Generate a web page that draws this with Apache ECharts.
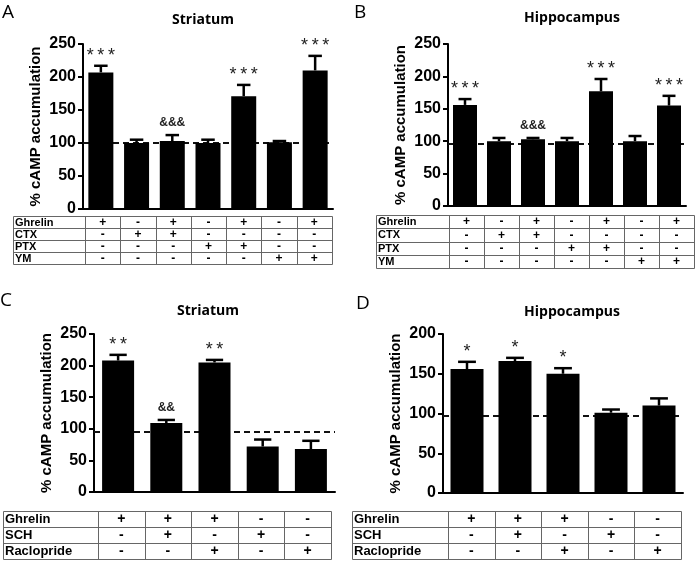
<!DOCTYPE html>
<html><head><meta charset="utf-8">
<script src="https://cdn.jsdelivr.net/npm/echarts@6/dist/echarts.min.js"></script>
<style>html,body{margin:0;padding:0;background:#fff}#c{width:700px;height:561px}</style>
</head><body><div id="c"></div>
<script>
// ---- data ----
const catsAB = ['G', 'CTX', 'G+CTX', 'PTX', 'G+PTX', 'YM', 'G+YM'];
const catsCD = ['G', 'G+SCH', 'G+Raclo', 'SCH', 'Raclo'];
const valuesA = [207, 100, 103, 100, 171, 101, 210];
const semA    = [10, 5, 9, 5, 17, 2, 22];
const valuesB = [156, 100, 103, 100, 177, 100, 155];
const semB    = [9, 5, 2, 5, 19, 8, 15];
const valuesC = [208, 109, 205, 72, 68];
const semC    = [9, 5, 4, 11, 13];
const valuesD = [156, 166, 150, 101, 110];
const semD    = [9, 4, 7, 4, 9];
const annotA = ['***', '', '&&&', '', '***', '', '***'];
const annotB = ['***', '', '&&&', '', '***', '', '***'];
const annotC = ['**', '&&', '**', '', ''];
const annotD = ['*', '*', '*', '', ''];
const baseA = 100, baseB = 96, baseC = 96, baseD = 97;
const rowsAB = ['Ghrelin', 'CTX', 'PTX', 'YM'];
const signsAB = [
  ['+', '-', '+', '-', '+', '-', '+'],
  ['-', '+', '+', '-', '-', '-', '-'],
  ['-', '-', '-', '+', '+', '-', '-'],
  ['-', '-', '-', '-', '-', '+', '+']
];
const rowsCD = ['Ghrelin', 'SCH', 'Raclopride'];
const signsCD = [
  ['+', '+', '+', '-', '-'],
  ['-', '+', '-', '+', '-'],
  ['-', '-', '+', '-', '+']
];
const titles = ['Striatum', 'Hippocampus', 'Striatum', 'Hippocampus'];
const letters = ['A', 'B', 'C', 'D'];
const yMax = [250, 250, 250, 200];
const yTicks = [50, 50, 50, 50];

// ---- layout ----
const grids = [
  {left: 83, top: 44, width: 250, height: 165},
  {left: 448, top: 44, width: 238, height: 162},
  {left: 94, top: 334, width: 241, height: 158},
  {left: 443, top: 334, width: 240, height: 159}
];
const barW = [25, 24, 32, 33];
const tables = [
  {x: 13, lab: 85, right: 332, top: 216, bottom: 264, fs: 11},
  {x: 376, lab: 449, right: 694, top: 215, bottom: 268, fs: 11},
  {x: 3, lab: 98, right: 331, top: 511, bottom: 559, fs: 13},
  {x: 352, lab: 448, right: 681, top: 511, bottom: 559, fs: 13}
];
const titlePos = [[203, 20], [572, 18], [208, 311], [572, 312]];
const letterPos = [[2, 3], [354, 3], [0, 291], [356, 294]];

const panels = [
  {cats: catsAB, v: valuesA, s: semA, a: annotA, base: baseA, rows: rowsAB, signs: signsAB},
  {cats: catsAB, v: valuesB, s: semB, a: annotB, base: baseB, rows: rowsAB, signs: signsAB},
  {cats: catsCD, v: valuesC, s: semC, a: annotC, base: baseC, rows: rowsCD, signs: signsCD},
  {cats: catsCD, v: valuesD, s: semD, a: annotD, base: baseD, rows: rowsCD, signs: signsCD}
];

const FAM = 'Liberation Sans';
const xAxis = [], yAxis = [], series = [], graphic = [];

panels.forEach((p, k) => {
  xAxis.push({
    type: 'category', gridIndex: k, data: p.cats,
    axisLine: {lineStyle: {color: '#000', width: 2}},
    axisTick: {show: false}, axisLabel: {show: false}
  });
  yAxis.push({
    type: 'value', gridIndex: k, min: 0, max: yMax[k], interval: yTicks[k],
    name: '% cAMP accumulation', nameLocation: 'middle', nameGap: 40,
    nameTextStyle: {fontFamily: FAM, fontWeight: 'bold', fontSize: 15, color: '#000'},
    axisLine: {show: true, lineStyle: {color: '#000', width: 2}},
    axisTick: {show: true, length: 5, lineStyle: {color: '#000', width: 2}},
    axisLabel: {fontFamily: FAM, fontWeight: 'bold', fontSize: 16, color: '#000', margin: 7},
    splitLine: {show: false}
  });
  series.push({
    type: 'bar', xAxisIndex: k, yAxisIndex: k, data: p.v, barWidth: barW[k], z: 2,
    itemStyle: {color: '#000'}, silent: true,
    markLine: {
      silent: true, symbol: 'none', z: 1,
      label: {show: false},
      lineStyle: {color: '#111', width: 2, type: [6, 4]},
      data: [{yAxis: p.base}]
    }
  });
  const ann = p.a;
  const capHalf = barW[k] * 0.27;
  series.push({
    type: 'custom', xAxisIndex: k, yAxisIndex: k, z: 3, silent: true,
    data: p.v.map((val, i) => [i, val, p.s[i]]),
    renderItem: function (params, api) {
      const i = api.value(0);
      const b = api.coord([i, api.value(1)]);
      const t = api.coord([i, api.value(1) + api.value(2)]);
      const children = [
        {type: 'line', shape: {x1: b[0], y1: b[1], x2: t[0], y2: t[1]}, style: {stroke: '#000', lineWidth: 2.5}},
        {type: 'line', shape: {x1: t[0] - capHalf, y1: t[1], x2: t[0] + capHalf, y2: t[1]}, style: {stroke: '#000', lineWidth: 2.5}}
      ];
      const txt = ann[params.dataIndex];
      if (txt) {
        const isAmp = txt.charAt(0) === '&';
        children.push({
          type: 'text',
          style: {
            text: isAmp ? txt : txt.split('').join('\u2009'),
            x: t[0], y: t[1] - (isAmp ? 6 : 1),
            align: 'center', verticalAlign: 'bottom',
            font: isAmp ? 'bold 12px Liberation Sans' : '18px Liberation Sans', fill: '#222'
          }
        });
      }
      return {type: 'group', children: children};
    }
  });

  // title & letter
  graphic.push({type: 'text', x: titlePos[k][0], y: titlePos[k][1],
    style: {text: titles[k], align: 'center', verticalAlign: 'middle', font: 'bold 14px Open Sans', fill: '#000'}});
  graphic.push({type: 'text', x: letterPos[k][0], y: letterPos[k][1],
    style: {text: letters[k], font: '19px Open Sans', fill: '#000'}});

  // table
  const tb = tables[k];
  const nR = p.rows.length, nC = p.cats.length;
  const rh = (tb.bottom - tb.top) / nR;
  const cw = (tb.right - tb.lab) / nC;
  const lineStyle = {stroke: '#666', lineWidth: 1};
  graphic.push({type: 'rect', shape: {x: tb.x + 0.5, y: tb.top + 0.5, width: tb.right - tb.x, height: tb.bottom - tb.top}, style: {fill: null, stroke: '#666', lineWidth: 1}});
  for (let r = 1; r < nR; r++) {
    const y = Math.round(tb.top + r * rh) + 0.5;
    graphic.push({type: 'line', shape: {x1: tb.x, y1: y, x2: tb.right, y2: y}, style: lineStyle});
  }
  for (let c = 0; c < nC; c++) {
    const x = Math.round(tb.lab + c * cw) + 0.5;
    graphic.push({type: 'line', shape: {x1: x, y1: tb.top, x2: x, y2: tb.bottom}, style: lineStyle});
  }
  p.rows.forEach((name, r) => {
    const cy = tb.top + (r + 0.5) * rh + 0.5;
    graphic.push({type: 'text', x: tb.x + 2, y: cy,
      style: {text: name, verticalAlign: 'middle', font: 'bold ' + tb.fs + 'px Liberation Sans', fill: '#000'}});
    p.signs[r].forEach((s, c) => {
      graphic.push({type: 'text', x: tb.lab + (c + 0.5) * cw, y: cy,
        style: {text: s, align: 'center', verticalAlign: 'middle', font: 'bold ' + (tb.fs + 1) + 'px Liberation Sans', fill: '#000'}});
    });
  });
});

const chart = echarts.init(document.getElementById('c'), null, {renderer: 'canvas'});
chart.setOption({
  animation: false,
  backgroundColor: '#fff',
  grid: grids,
  xAxis: xAxis,
  yAxis: yAxis,
  series: series,
  graphic: graphic
});
</script>
</body></html>
